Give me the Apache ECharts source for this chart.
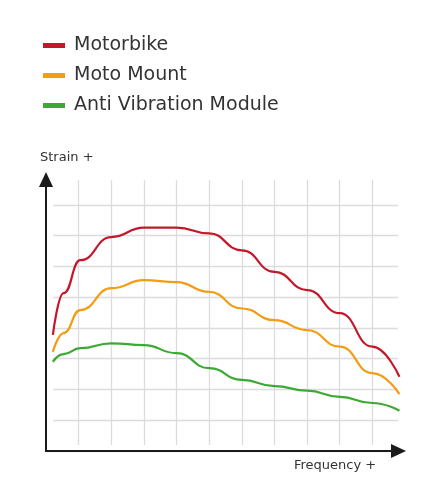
<!DOCTYPE html>
<html><head><meta charset="utf-8">
<script src="https://cdn.jsdelivr.net/npm/echarts@6/dist/echarts.min.js"></script>
<style>html,body{margin:0;background:#fff}#main{width:448px;height:501px}</style>
</head><body><div id="main"></div>
<script>
// values, x in grid columns, y in grid rows
var names = ['Motorbike', 'Moto Mount', 'Anti Vibration Module'];
var colors = ['#c3182b', '#f39c16', '#3da935'];
var xs = [0.21, 0.54, 1.05, 2, 3, 4, 5, 6, 7, 8, 9, 10, 10.83];
var motorbike = [3.77, 5.13, 6.2, 6.95, 7.26, 7.26, 7.07, 6.52, 5.82, 5.23, 4.48, 3.39, 2.41];
var motoMount = [3.22, 3.83, 4.58, 5.29, 5.55, 5.49, 5.17, 4.63, 4.25, 3.93, 3.39, 2.53, 1.85];
var antiVib = [2.9, 3.15, 3.34, 3.5, 3.44, 3.18, 2.69, 2.31, 2.11, 1.96, 1.76, 1.56, 1.31];

function pairs(arr){
    var out = [];
    for(var i = 0; i < xs.length; i++){ out.push([xs[i], arr[i]]); }
    return out;
}

var chart = echarts.init(document.getElementById('main'));
var series = [motorbike, motoMount, antiVib].map(function(d, i){
    return {
        name: names[i], type: 'line', data: pairs(d), smooth: 0.5, smoothMonotone: 'x',
        showSymbol: false, lineStyle: {width: 2.2, color: colors[i]}, itemStyle: {color: colors[i]}
    };
});
chart.setOption({
    animation: false,
    legend: {
        orient: 'vertical', left: 38, top: 31, itemGap: 11,
        icon: 'rect', itemWidth: 22, itemHeight: 5,
        textStyle: {fontSize: 19, color: '#333', fontFamily: 'DejaVu Sans', padding: [0, 0, 0, 4]},
        data: names
    },
    grid: {left: 46, top: 174, width: 359, height: 277},
    xAxis: {type: 'value', min: 0, max: 11, interval: 1,
        axisLine: {show: false}, axisTick: {show: false}, axisLabel: {show: false},
        splitLine: {lineStyle: {color: '#dcdcdc', width: 1.3}}},
    yAxis: {type: 'value', min: 0, max: 9, interval: 1,
        axisLine: {show: false}, axisTick: {show: false}, axisLabel: {show: false},
        splitLine: {lineStyle: {color: '#dcdcdc', width: 1.3}}},
    graphic: [
        // trim grid lines so they stop short of the axes
        {type: 'rect', shape: {x: 46, y: 170, width: 7, height: 282}, style: {fill: '#fff'}, z: 1},
        {type: 'rect', shape: {x: 398, y: 170, width: 12, height: 282}, style: {fill: '#fff'}, z: 1},
        {type: 'rect', shape: {x: 46, y: 170, width: 360, height: 10}, style: {fill: '#fff'}, z: 1},
        {type: 'rect', shape: {x: 46, y: 445, width: 360, height: 6}, style: {fill: '#fff'}, z: 1},
        {type: 'line', shape: {x1: 46, y1: 183, x2: 46, y2: 451}, style: {stroke: '#1a1a1a', lineWidth: 2}, z: 10},
        {type: 'line', shape: {x1: 45, y1: 451, x2: 394, y2: 451}, style: {stroke: '#1a1a1a', lineWidth: 2}, z: 10},
        {type: 'polygon', shape: {points: [[46, 172], [39, 187], [53, 187]]}, style: {fill: '#1a1a1a'}, z: 10},
        {type: 'polygon', shape: {points: [[406, 451], [391, 444], [391, 458]]}, style: {fill: '#1a1a1a'}, z: 10},
        {type: 'text', left: 40, top: 151, style: {text: 'Strain +', fontSize: 13, fill: '#333', fontFamily: 'DejaVu Sans'}, z: 10},
        {type: 'text', left: 294, top: 459, style: {text: 'Frequency +', fontSize: 13, fill: '#333', fontFamily: 'DejaVu Sans'}, z: 10}
    ],
    series: series
});
</script></body></html>
